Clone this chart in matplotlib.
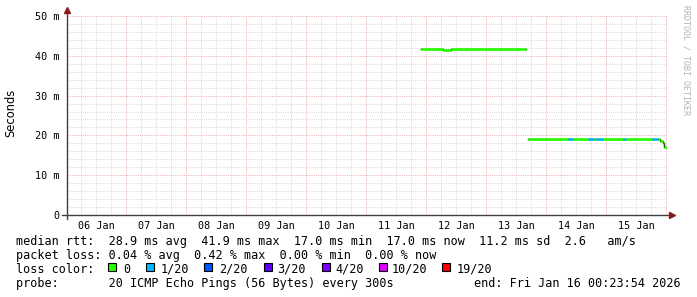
import numpy as np
import pandas as pd
import matplotlib
matplotlib.use("Agg")
import matplotlib.pyplot as plt
from matplotlib.patches import Rectangle

# --- data (median rtt in ms, packet loss as count out of 20 pings) ---
END_TIME = pd.Timestamp("2026-01-16 00:23:54")
START_TIME = END_TIME - pd.Timedelta(days=10)

seg1_edges = ["2026-01-11 22:00", "2026-01-12 06:50", "2026-01-12 10:00",
              "2026-01-13 16:00"]
seg1_ms = [41.8, 41.5, 41.8]
seg1_loss = [0, 0, 0]

seg2_edges = ["2026-01-13 16:45", "2026-01-14 08:50", "2026-01-14 10:50",
              "2026-01-14 16:50", "2026-01-14 19:20", "2026-01-14 20:00",
              "2026-01-14 22:50", "2026-01-15 06:50", "2026-01-15 08:00",
              "2026-01-15 18:25", "2026-01-15 20:50", "2026-01-15 21:40",
              "2026-01-15 22:40", "2026-01-15 23:20", "2026-01-16 00:20"]
seg2_ms = [19.2, 19.2, 19.2, 19.2, 19.2, 19.2, 19.2, 19.2, 19.2, 19.2,
           19.2, 18.7, 18.1, 17.1]
seg2_loss = [0, 1, 0, 1, 0, 1, 0, 1, 0, 1, 0, 0, 0, 0]

loss_levels = [0, 1, 2, 3, 4, 10, 19]
loss_labels = ["0", "1/20", "2/20", "3/20", "4/20", "10/20", "19/20"]
loss_colors = ["#26ff00", "#00b8ff", "#0059ff", "#5e00ff", "#7e00ff",
               "#dd00ff", "#ff0000"]
loss_color_map = dict(zip(loss_levels, loss_colors))

stats_rtt = "median rtt:  28.9 ms avg  41.9 ms max  17.0 ms min  17.0 ms now  11.2 ms sd  2.6   am/s"
stats_loss = "packet loss: 0.04 % avg  0.42 % max  0.00 % min  0.00 % now"
probe_text = "probe:       20 ICMP Echo Pings (56 Bytes) every 300s"
end_text = "end: Fri Jan 16 00:23:54 2026"

W, H = 697, 297
MONO = "DejaVu Sans Mono"

fig = plt.figure(figsize=(W / 100, H / 100), dpi=100)
fig.patch.set_facecolor("white")
ax = fig.add_axes([67 / W, (H - 215) / H, 600 / W, 199 / H])
ax.set_facecolor("white")
ax.set_xlim(START_TIME, END_TIME)
ax.set_ylim(0, 50)

# grid (dotted)
minor_col, major_col = "#dadada", "#eab0b0"
dot = dict(lw=0.72, linestyle=(0, (1, 1.2)), zorder=1)
for t in pd.date_range("2026-01-06 06:00", END_TIME, freq="6h"):
    if t.hour != 0:
        ax.axvline(t, color=minor_col, **dot)
for t in pd.date_range("2026-01-07 00:00", END_TIME, freq="1D"):
    ax.axvline(t, color=major_col, **dot)
for v in np.arange(2, 51, 2):
    if v % 10:
        ax.axhline(v, color=minor_col, **dot)
for v in range(10, 51, 10):
    ax.axhline(v, color=major_col, **dot)


def draw_median(edges, ms, loss):
    edges = pd.to_datetime(edges)
    ax.step(edges, list(ms) + [ms[-1]], where="post", color="#202020",
            lw=1.0, zorder=3)
    for t0, t1, v, l in zip(edges[:-1], edges[1:], ms, loss):
        ax.hlines(v, t0, t1, color=loss_color_map[l], lw=1.9, zorder=4)


draw_median(seg1_edges, seg1_ms, seg1_loss)
draw_median(seg2_edges, seg2_ms, seg2_loss)

# ticks
noon = pd.date_range("2026-01-06 12:00", periods=10, freq="1D")
ax.set_xticks(noon)
ax.set_xticklabels([t.strftime("%d %b") for t in noon], family=MONO,
                   fontsize=7.3)
yt = [0, 10, 20, 30, 40, 50]
ax.set_yticks(yt)
ax.set_yticklabels(["0" if v == 0 else f"{v} m" for v in yt], family=MONO,
                   fontsize=7.3)
ax.tick_params(axis="x", length=0, pad=4)
ax.tick_params(axis="y", length=0, pad=5.5)
for s in ax.spines.values():
    s.set_visible(False)

# axis lines with arrows
axis_col, arrow_col = "#404040", "#8b1a1a"
ax.plot([-5 / 600, 1 + 2 / 600], [0, 0], color=axis_col, lw=1.0,
        transform=ax.transAxes, clip_on=False, zorder=5)
ax.plot([0, 0], [-4 / 199, 1 + 3 / 199], color=axis_col, lw=1.0,
        transform=ax.transAxes, clip_on=False, zorder=5)
ax.plot([1 + 5 / 600], [0], marker=">", ms=4, color=arrow_col,
        transform=ax.transAxes, clip_on=False, zorder=6)
ax.plot([0], [1 + 6 / 199], marker="^", ms=4, color=arrow_col,
        transform=ax.transAxes, clip_on=False, zorder=6)

# labels
fig.text(11 / W, 1 - 113 / H, "Seconds", rotation=90, ha="center",
         va="center", fontsize=8.3, family="DejaVu Sans")
fig.text(686 / W, 1 - 60 / H, "RRDTOOL / TOBI OETIKER", rotation=270,
         ha="center", va="center", fontsize=6, family=MONO, color="#b4b4b4")

# legend block
fs = 8.5
fig.text(16 / W, 1 - 245 / H, stats_rtt, family=MONO, fontsize=fs,
         va="baseline")
fig.text(16 / W, 1 - 259 / H, stats_loss, family=MONO, fontsize=fs,
         va="baseline")
fig.text(16 / W, 1 - 273 / H, "loss color:", family=MONO, fontsize=fs,
         va="baseline")
sq_x = [108, 146, 204, 264, 322, 379, 442]
lab_x = [123, 161, 219, 277, 335, 392, 457]
for sx, lx, lab, col in zip(sq_x, lab_x, loss_labels, loss_colors):
    fig.patches.append(Rectangle((sx / W, 1 - 271 / H), 8 / W, 8 / H,
                                 transform=fig.transFigure, facecolor=col,
                                 edgecolor="black", lw=0.8))
    fig.text(lx / W, 1 - 273 / H, lab, family=MONO, fontsize=fs,
             va="baseline")
fig.text(16 / W, 1 - 287 / H, probe_text, family=MONO, fontsize=fs,
         va="baseline")
fig.text(681 / W, 1 - 287 / H, end_text, family=MONO, fontsize=fs,
         va="baseline", ha="right")

fig.savefig("out.png", dpi=100)
